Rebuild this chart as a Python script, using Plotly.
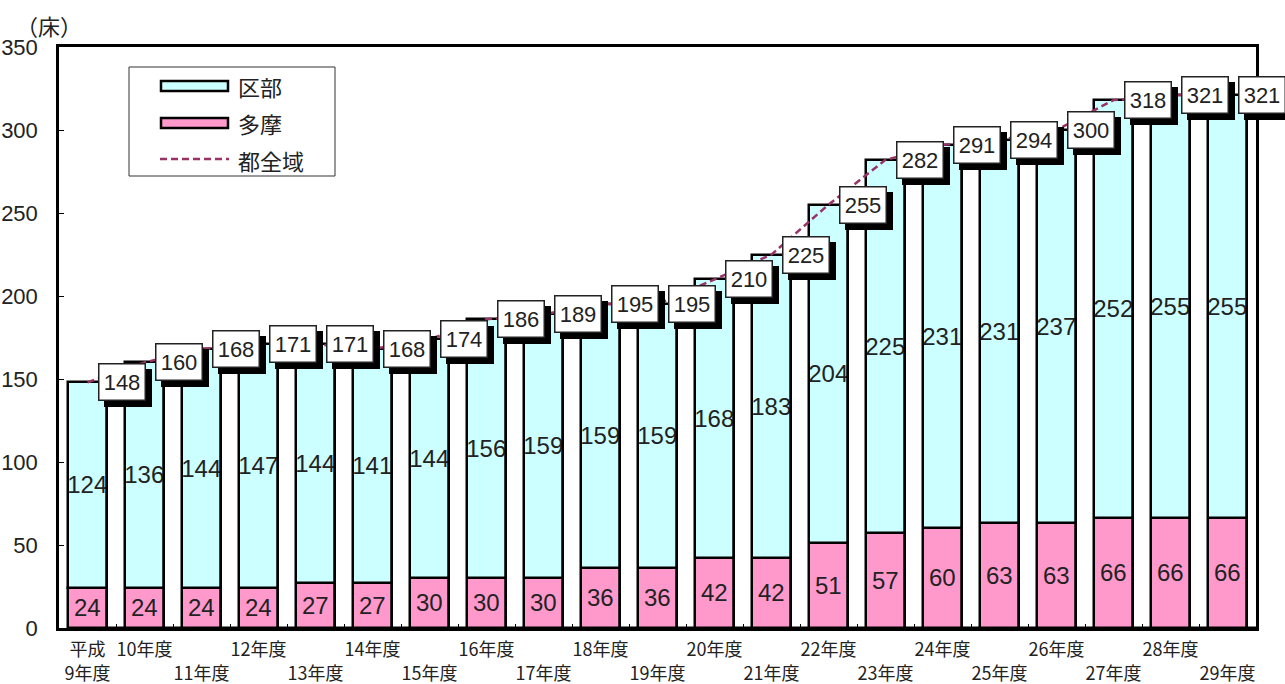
import plotly.graph_objects as go

# 年度ごとの病床数
years = ["平成9年度", "10年度", "11年度", "12年度", "13年度", "14年度", "15年度",
         "16年度", "17年度", "18年度", "19年度", "20年度", "21年度", "22年度",
         "23年度", "24年度", "25年度", "26年度", "27年度", "28年度", "29年度"]
tick_text = ["平成<br>9年度", "10年度<br>\u00a0", "\u00a0<br>11年度", "12年度<br>\u00a0",
             "\u00a0<br>13年度", "14年度<br>\u00a0", "\u00a0<br>15年度", "16年度<br>\u00a0",
             "\u00a0<br>17年度", "18年度<br>\u00a0", "\u00a0<br>19年度", "20年度<br>\u00a0",
             "\u00a0<br>21年度", "22年度<br>\u00a0", "\u00a0<br>23年度", "24年度<br>\u00a0",
             "\u00a0<br>25年度", "26年度<br>\u00a0", "\u00a0<br>27年度", "28年度<br>\u00a0",
             "\u00a0<br>29年度"]
kubu = [124, 136, 144, 147, 144, 141, 144, 156, 159, 159, 159, 168, 183, 204,
        225, 231, 231, 237, 252, 255, 255]
tama = [24, 24, 24, 24, 27, 27, 30, 30, 30, 36, 36, 42, 42, 51, 57, 60, 63, 63,
        66, 66, 66]
total = [148, 160, 168, 171, 171, 168, 174, 186, 189, 195, 195, 210, 225, 255,
         282, 291, 294, 300, 318, 321, 321]

W, H = 1285, 684
ML, MR, MT, MB = 59, 29, 47, 56
PW, PH = W - ML - MR, H - MT - MB

NUM_FONT = "Liberation Sans Narrow, Liberation Sans, Arial, sans-serif"
JP_FONT = "Noto Sans CJK JP, sans-serif"

BAR_W = 0.70
WHITE_W = 1.0 - BAR_W

fig = go.Figure()

# 多摩 (下段)
fig.add_trace(go.Bar(
    x=years, y=tama, base=0, width=BAR_W, name="多摩",
    marker=dict(color="#FF99CC", line=dict(color="black", width=2.5)),
    text=[str(v) for v in tama], textposition="inside", insidetextanchor="middle",
    textangle=0, textfont=dict(family=NUM_FONT, size=24, color="#222"),
    constraintext="none", showlegend=False, hoverinfo="skip"))

# 区部 (上段)
fig.add_trace(go.Bar(
    x=years, y=kubu, base=tama, width=BAR_W, name="区部",
    marker=dict(color="#CCFFFF", line=dict(color="black", width=2.5)),
    text=[str(v) for v in kubu], textposition="inside", insidetextanchor="middle",
    textangle=0, textfont=dict(family=NUM_FONT, size=24, color="#222"),
    constraintext="none", showlegend=False, hoverinfo="skip"))

# 都全域 (白い柱、各年度の右隣に配置)
fig.add_trace(go.Bar(
    x=years, y=total, base=0, width=WHITE_W, offset=BAR_W / 2,
    marker=dict(color="white", line=dict(color="black", width=2.5)),
    showlegend=False, hoverinfo="skip"))

# 都全域の推移線
fig.add_trace(go.Scatter(
    x=years, y=total, mode="lines",
    line=dict(color="#993366", width=2.5, dash="7px,4px"),
    showlegend=False, hoverinfo="skip", cliponaxis=False))

annotations = []
# 合計値ラベル (影付きの白い箱)
for i, v in enumerate(total):
    xpos = i + 0.5
    common = dict(x=xpos, y=v, xref="x", yref="y", showarrow=False,
                  width=43, height=33, borderpad=1, borderwidth=1.5,
                  xanchor="center", yanchor="middle")
    annotations.append(dict(common, text=str(v), xshift=6 + 6, yshift=-6,
                            bgcolor="black", bordercolor="black",
                            font=dict(family=NUM_FONT, size=22, color="black")))
    annotations.append(dict(common, text=str(v), xshift=6,
                            bgcolor="white", bordercolor="#222",
                            font=dict(family=NUM_FONT, size=22, color="#222")))


def px_x(p):
    return (p - ML) / PW


def px_y(p):
    return (H - MB - p) / PH


# 単位
annotations.append(dict(text="（床）", x=px_x(49), y=px_y(25), xref="paper", yref="paper",
                        showarrow=False, xanchor="center", yanchor="middle",
                        font=dict(family=JP_FONT, size=22, color="#222")))

# 凡例
shapes = [
    dict(type="rect", xref="paper", yref="paper", x0=px_x(129), x1=px_x(335),
         y0=px_y(176), y1=px_y(67), line=dict(color="#333", width=1), fillcolor="white"),
    dict(type="rect", xref="paper", yref="paper", x0=px_x(161), x1=px_x(228),
         y0=px_y(91), y1=px_y(81), line=dict(color="black", width=2.5), fillcolor="#CCFFFF"),
    dict(type="rect", xref="paper", yref="paper", x0=px_x(161), x1=px_x(228),
         y0=px_y(128), y1=px_y(118), line=dict(color="black", width=2.5), fillcolor="#FF99CC"),
    dict(type="line", xref="paper", yref="paper", x0=px_x(160), x1=px_x(229),
         y0=px_y(159), y1=px_y(159), line=dict(color="#993366", width=2.5, dash="7px,4px")),
]
for label, ypx in [("区部", 86), ("多摩", 123), ("都全域", 160)]:
    annotations.append(dict(text=label, x=px_x(236), y=px_y(ypx), xref="paper", yref="paper",
                            showarrow=False, xanchor="left", yanchor="middle",
                            font=dict(family=JP_FONT, size=22, color="#222")))

fig.update_layout(
    width=W, height=H,
    margin=dict(l=ML, r=MR, t=MT, b=MB, pad=0, autoexpand=False),
    paper_bgcolor="white", plot_bgcolor="white",
    barmode="overlay", bargap=0,
    annotations=annotations, shapes=shapes,
    showlegend=False,
)
fig.update_xaxes(
    type="category", categoryorder="array", categoryarray=years,
    tickmode="array", tickvals=years, ticktext=tick_text,
    range=[-0.5, len(years) - 0.5], tickson="boundaries", automargin=False,
    ticks="inside", ticklen=4, tickwidth=1, tickcolor="black",
    showline=True, linecolor="black", linewidth=2.5, mirror=True,
    showgrid=False, tickangle=0, ticklabelstandoff=4,
    tickfont=dict(family=JP_FONT, size=18, color="#222"),
)
fig.update_yaxes(
    range=[0, 350], dtick=50, tick0=0, automargin=False,
    ticks="inside", ticklen=5, tickwidth=1, tickcolor="black",
    showline=True, linecolor="black", linewidth=2.5, mirror=True,
    showgrid=False, zeroline=False,
    tickfont=dict(family=NUM_FONT, size=22, color="#222"),
    ticklabelstandoff=14,
)

fig.write_html("out.html")
